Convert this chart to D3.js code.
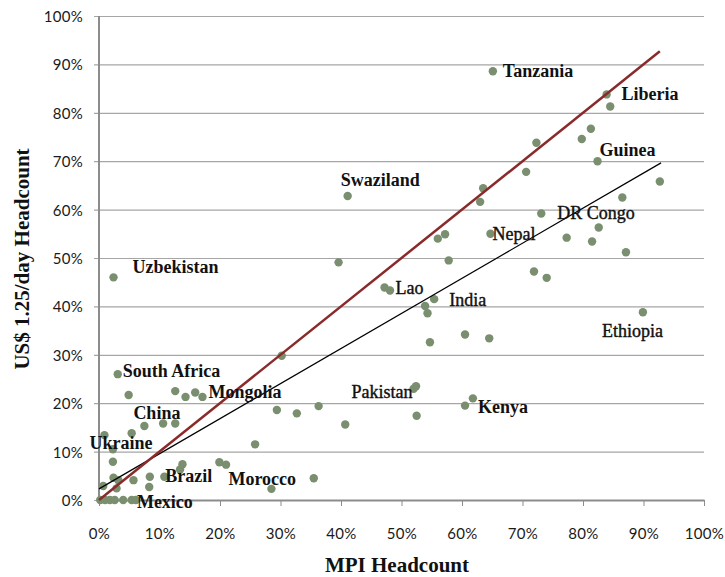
<!DOCTYPE html>
<html>
<head>
<meta charset="utf-8">
<script src="https://cdn.jsdelivr.net/npm/d3@7"></script>
<style>
  body { margin: 0; background: #fff; }
  .tick text { font-family: Lato, "Open Sans", sans-serif; font-size: 15px; letter-spacing: 0.3px; fill: #1a1a1a; }
  .lbl { font-family: "Liberation Serif", "DejaVu Serif", serif; font-size: 18px; fill: #111; }
  .title { font-family: "Liberation Serif", "DejaVu Serif", serif; font-size: 21px; font-weight: bold; fill: #111; }
</style>
</head>
<body>
<svg id="chart" width="725" height="577"></svg>
<script>

// MPI headcount (x) and US$1.25/day headcount (y), in %
var mpi = [65.1, 83.9, 84.5, 81.3, 79.8, 72.3, 82.4, 70.6, 92.7, 63.5, 63.0, 41.1, 86.5, 73.1, 82.6, 77.3, 81.5, 87.1,
    64.7, 56.0, 57.2, 57.8, 39.6, 71.9, 74.0, 47.2, 48.1, 55.4, 53.9, 54.3, 89.9, 60.5, 64.5, 54.7, 30.2,
    2.4, 3.1, 4.9, 12.6, 14.3, 15.9, 17.1, 52.0, 52.4, 29.4, 32.7, 36.3, 40.7, 52.5, 60.5, 61.8,
    7.5, 10.6, 12.6, 5.4, 0.9, 2.3, 2.3, 25.8, 13.8, 13.4, 19.9, 21.0, 10.8, 8.4, 8.3,
    0.7, 2.4, 3.2, 2.9, 5.7, 35.5, 28.5, 0.2, 1.0, 1.8, 2.6, 4.0, 5.4, 6.1];
var poverty = [88.6, 83.8, 81.3, 76.7, 74.6, 73.8, 70.0, 67.8, 65.8, 64.4, 61.6, 62.8, 62.5, 59.2, 56.3, 54.2, 53.4, 51.2,
    55.0, 54.0, 54.9, 49.5, 49.1, 47.2, 45.9, 43.9, 43.3, 41.5, 40.1, 38.6, 38.8, 34.2, 33.4, 32.6, 29.8,
    46.0, 26.0, 21.7, 22.5, 21.3, 22.2, 21.3, 23.0, 23.5, 18.6, 17.9, 19.4, 15.6, 17.4, 19.5, 21.0,
    15.3, 15.8, 15.8, 13.8, 13.4, 10.5, 7.9, 11.5, 7.4, 6.3, 7.8, 7.3, 4.8, 4.8, 2.7,
    2.9, 4.6, 4.1, 2.4, 4.1, 4.5, 2.3, 0, 0, 0, 0, 0, 0, 0];
var countries = ["Tanzania", "Liberia", "", "", "", "", "Guinea", "", "", "", "", "Swaziland", "", "DR Congo", "", "", "", "",
    "Nepal", "", "", "", "", "", "", "Lao", "", "India", "", "", "Ethiopia", "", "", "", "",
    "Uzbekistan", "South Africa", "", "", "", "", "Mongolia", "Pakistan", "", "", "", "", "", "", "Kenya", "",
    "China", "", "", "", "Ukraine", "", "", "", "", "", "", "", "Brazil", "", "",
    "", "", "", "", "", "", "Morocco", "", "", "", "", "", "", "Mexico"];

var xTicks = d3.range(0, 101, 10);
var yTicks = d3.range(0, 101, 10);

// lines: 45-degree line and fitted trend
var equalLine = [0, 92.7];
var trendIntercept = 2.3, trendSlope = 0.725, trendEnd = 92.9;

// label placement relative to the dot (px), bold or not
var labelPos = {
    "Tanzania": [10, 6, true], "Liberia": [15, 6, true], "Guinea": [2, -5, true], "Swaziland": [-7, -10, true],
    "DR Congo": [16, 6, false], "Nepal": [2, 6, false], "Uzbekistan": [19, -4, true], "Lao": [11, 6, false],
    "India": [15, 7, false], "Ethiopia": [-41, 25, false], "South Africa": [5, 3, true], "Mongolia": [6, 1, true],
    "Pakistan": [-62, 9, false], "China": [-11, -7, true], "Kenya": [13, 7, true], "Ukraine": [-15, 14, true],
    "Brazil": [1, 5, true], "Morocco": [-43, -4, true], "Mexico": [1, 8, true]
};

var svg = d3.select("#chart");
var plotLeft = 99, plotTop = 16, plotW = 605, plotH = 484;

var x = d3.scaleLinear().domain([0, 100]).range([plotLeft, plotLeft + plotW]);
var y = d3.scaleLinear().domain([0, 100]).range([plotTop + plotH, plotTop]);

var pct = function (d) { return d + "%"; };

// gridlines + y axis
var yAxis = svg.append("g")
    .attr("transform", "translate(" + plotLeft + ",0)")
    .call(d3.axisLeft(y).tickValues(yTicks).tickFormat(pct).tickSize(5).tickSizeOuter(0).tickPadding(11));
yAxis.select(".domain").remove();
yAxis.selectAll(".tick line").attr("x1", -5).attr("x2", plotW).attr("stroke", "#a6a6a6").attr("stroke-width", 1.2);
yAxis.selectAll(".tick text").attr("x", -16).attr("dy", "0.36em");

var xAxis = svg.append("g")
    .attr("transform", "translate(0," + (plotTop + plotH) + ")")
    .call(d3.axisBottom(x).tickValues(xTicks).tickFormat(pct).tickSize(6).tickSizeOuter(0).tickPadding(22));
xAxis.select(".domain").attr("stroke", "#8c8c8c").attr("stroke-width", 2);
xAxis.selectAll(".tick line").attr("stroke", "#8c8c8c").attr("stroke-width", 1);

svg.append("line")
    .attr("x1", x(0)).attr("x2", x(0)).attr("y1", y(0) + 1).attr("y2", y(100))
    .attr("stroke", "#8c8c8c").attr("stroke-width", 2);

// points
var pts = mpi.map(function (v, i) { return { x: v, y: poverty[i], name: countries[i] }; });

svg.append("g").selectAll("circle")
    .data(pts)
    .enter()
    .append("circle")
    .attr("cx", function (d) { return x(d.x); })
    .attr("cy", function (d) { return y(d.y); })
    .attr("r", 4.2)
    .attr("fill", "#7a8f6f");

// lines
svg.append("line")
    .attr("x1", x(0)).attr("y1", y(trendIntercept))
    .attr("x2", x(trendEnd)).attr("y2", y(trendIntercept + trendSlope * trendEnd))
    .attr("stroke", "#000").attr("stroke-width", 1.2);

svg.append("line")
    .attr("x1", x(equalLine[0])).attr("y1", y(equalLine[0]))
    .attr("x2", x(equalLine[1])).attr("y2", y(equalLine[1]))
    .attr("stroke", "#8b2a2a").attr("stroke-width", 2.5);

// country labels
svg.append("g").selectAll("text")
    .data(pts.filter(function (d) { return d.name; }))
    .enter()
    .append("text")
    .attr("class", "lbl")
    .attr("x", function (d) { return x(d.x) + labelPos[d.name][0]; })
    .attr("y", function (d) { return y(d.y) + labelPos[d.name][1]; })
    .style("font-weight", function (d) { return labelPos[d.name][2] ? "bold" : "normal"; })
    .style("stroke", function (d) { return labelPos[d.name][2] ? "none" : "#111"; })
    .style("stroke-width", 0.4)
    .text(function (d) { return d.name; });

// axis titles
svg.append("text").attr("class", "title")
    .attr("x", 397).attr("y", 572).attr("text-anchor", "middle")
    .text("MPI Headcount");

svg.append("text").attr("class", "title")
    .attr("transform", "translate(29,259) rotate(-90)")
    .attr("text-anchor", "middle")
    .text("US$ 1.25/day Headcount");

</script>
</body>
</html>
